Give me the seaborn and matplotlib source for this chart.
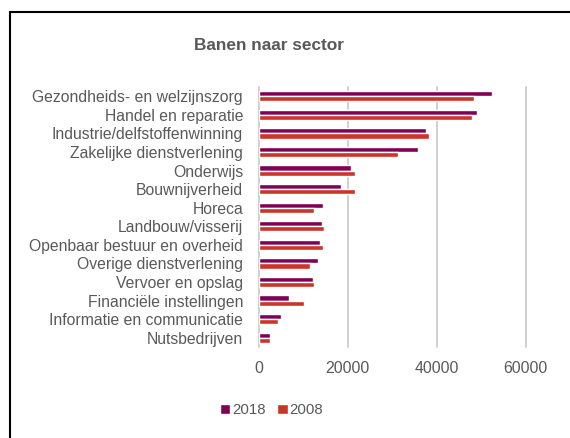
import pandas as pd
import seaborn as sns
import matplotlib.pyplot as plt
from matplotlib.patches import Rectangle

sectors = [
    "Gezondheids- en welzijnszorg",
    "Handel en reparatie",
    "Industrie/delfstoffenwinning",
    "Zakelijke dienstverlening",
    "Onderwijs",
    "Bouwnijverheid",
    "Horeca",
    "Landbouw/visserij",
    "Openbaar bestuur en overheid",
    "Overige dienstverlening",
    "Vervoer en opslag",
    "Financiële instellingen",
    "Informatie en communicatie",
    "Nutsbedrijven",
]
jobs_2018 = [52500, 49000, 37600, 35800, 20700, 18500, 14400, 14200, 13700, 13200, 12100, 6800, 4900, 2400]
jobs_2008 = [48400, 47900, 38200, 31200, 21600, 21600, 12400, 14700, 14400, 11400, 12300, 10200, 4300, 2500]
years = ["2018", "2008"]
xticks = [0, 20000, 40000, 60000]

df = pd.DataFrame({
    "sector": sectors * 2,
    "jaar": [years[0]] * len(sectors) + [years[1]] * len(sectors),
    "banen": jobs_2018 + jobs_2008,
})

sns.set_style("white")
plt.rcParams["font.family"] = ["Liberation Sans", "DejaVu Sans"]
grey = "#595959"

fig = plt.figure(figsize=(5.7, 4.38), dpi=100)
ax = fig.add_axes([259 / 570, 1 - 347 / 438, (525.5 - 259) / 570, (347 - 87) / 438])

sns.barplot(data=df, y="sector", x="banen", hue="jaar", order=sectors,
            hue_order=years, palette=["#800056", "#C93628"], width=0.56,
            saturation=1, orient="h", ax=ax, legend=True, zorder=2)

ax.set_xlim(xticks[0], xticks[-1])
ax.set_xticks(xticks)
ax.set_xlabel("")
ax.set_ylabel("")
ax.grid(False)
# gridlines drawn by hand so the ones on the axes edges are not clipped
for t in xticks:
    ax.axvline(t, color="#D0D0D0", linewidth=1.4, zorder=0, clip_on=False)
for s in ax.spines.values():
    s.set_visible(False)
ax.tick_params(axis="y", length=0, pad=11.5, labelsize=11.3, labelcolor=grey)
ax.tick_params(axis="x", length=0, pad=10, labelsize=11.4, labelcolor=grey)

ax.legend(loc="center", bbox_to_anchor=(271.5 / 570, 1 - 410 / 438),
          bbox_transform=fig.transFigure, ncol=2, frameon=False,
          handlelength=0.7, handleheight=0.7, handletextpad=0.1,
          columnspacing=0.8, fontsize=10.8, labelcolor=grey)

fig.text(268.5 / 570, 1 - 45 / 438, "Banen naar sector", ha="center", va="center",
         fontsize=12.4, fontweight="bold", color=grey)

fig.add_artist(Rectangle((9.5 / 570, -0.1), 1.2, (438 - 11.5) / 438 + 0.1,
                         transform=fig.transFigure, fill=False,
                         edgecolor="black", linewidth=1.5))

fig.savefig("out.png", dpi=100)
